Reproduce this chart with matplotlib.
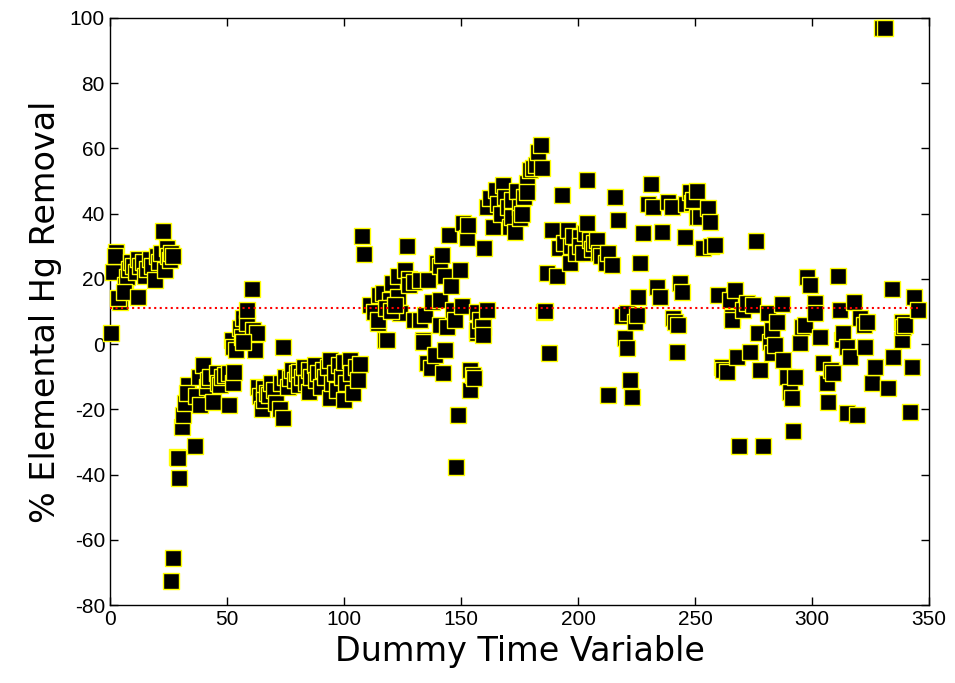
import matplotlib
matplotlib.use("Agg")
import matplotlib.pyplot as plt

plt.rcParams['axes.unicode_minus'] = False

# Hg removal vs dummy time
x = [0.5, 1.3, 2.6, 2, 4.5, 3.5, 6.4, 7.2, 6, 8, 9, 10, 11, 12, 12, 13, 14, 15, 16, 17, 18, 19.2, 20, 21,
     22.6, 22, 23.5, 24.4, 25, 25.6, 26, 27,
     26, 27, 28.6, 29.6, 29, 30.7, 31.2, 32, 33.4, 33, 36.3, 37, 38.5, 38, 40, 41.5, 42, 44, 43, 45.7, 46,
     47, 48, 49, 51, 51, 52.6, 53,
     52, 52.6, 54, 55.6, 56.4, 56.8, 58.5, 58.5, 60.7, 61, 62, 62.8, 57,
     63.5, 64, 65, 66, 66, 67, 68, 69, 70, 71, 72.6, 74, 74, 73, 75, 76, 77, 78, 79, 80, 81, 81, 82, 83, 84,
     85, 85, 86, 87.6, 88, 89, 90, 91, 92, 93, 94, 94, 95, 96, 97, 98, 99, 100, 100, 101, 102.6, 103, 104,
     105, 106, 107,
     107.7, 108.5, 111, 113, 114.5, 114.5, 115, 116.7, 117.5, 118.4, 119.7, 120.5, 121, 123, 123, 124, 126,
     126.9, 128, 128, 130, 130, 132.5, 132.5, 133.8, 133.8, 134.6, 135.5, 136, 137, 137.6, 139, 139.7, 141,
     141, 141, 142, 142.3, 143, 143, 144, 145, 145.7, 146.6, 147.4, 147.8, 148.7, 149.6, 150.4, 151, 152.6,
     153, 153.8, 153.8, 155, 155.5, 156.8, 156.8, 157, 158, 159.4, 159.4, 118, 120, 122,
     160, 161, 161, 162.4, 163.7, 165, 166, 167, 168, 169, 170, 171, 172, 172, 173, 174, 175, 175, 176, 177,
     178, 178, 179.5, 180.8, 182, 183, 184, 184.6, 185.5, 186,
     186.8, 187.6, 188.9, 191, 192, 193, 194, 195.7, 196.6, 197, 198, 199, 200.9, 201, 202, 203, 204, 204,
     205, 206, 207, 208, 209, 210, 212, 213, 212.8, 214.5, 215.8, 217, 218.8, 220, 221, 221, 222, 223,
     224.4, 225, 225.6, 226.5, 227.8, 230, 231, 232, 233.8, 235, 236, 238.5, 240, 240.6, 241.5, 242.3,
     242.7, 243.6, 244.4, 245.7, 246,
     248, 248.7, 249, 250.8, 250.8, 252, 253.4, 255.6, 256.4, 257, 258.5, 259.8,
     261.5, 262, 263.7, 265, 265.8, 265.8, 267, 268, 268.8, 270.5, 272, 273.5, 274.8, 276, 277, 277.8, 279,
     281, 282, 283, 283, 284, 285, 287, 287.6, 289.3, 290.6, 291.5, 291.9, 292.7, 295, 295.7, 297, 297.8,
     299, 301, 301, 303.4, 304.7, 306.4, 306.8, 308, 309, 311, 312, 312.8, 313, 315, 315, 316.2, 318, 319,
     320.5, 322, 322.6, 323.5, 325.6, 327, 330, 331, 332.5, 334, 334.6, 338.5, 338.5, 339, 339.7, 341.9,
     342.7, 343.6, 345]
y = [3.4, 22, 28.2, 27, 12.9, 14, 18, 20.6, 16, 23, 25, 24, 22, 14.4, 26, 24, 25, 21, 23, 26, 24, 19.6, 27,
     25, 34.7, 28, 22.7, 29.4, 27, 25.8, 28, 27,
     -72.7, -65.6, -34.7, -41.1, -35, -25.4, -21.8, -18, -12.6, -15, -31.3, -16, -18.7, -10, -6.4, -13, -11,
     -17.8, -10, -9, -12, -12.6, -10, -9.5, -18.7, -9, -12, -8.5,
     1.2, -0.9, -1.8, 4.9, 2.1, 8, 6.4, 10.4, 16.9, 4.3, -1.8, 3.4, 0.5,
     -13, -16, -20, -13.5, -17, -15, -15.6, -12, -14, -18, -20, -22.7, -0.9, -12, -10, -13, -10.4, -8, -11,
     -9, -8.6, -12.6, -10, -7, -12, -8, -14.7, -10, -6.4, -11, -9, -13, -8, -10, -7, -5, -16.6, -12, -9,
     -14, -6.4, -10, -5.5, -17, -12, -5, -9, -15, -7, -11, -6,
     33, 27.6, 12, 9.8, 6.4, 7.4, 15, 15.6, 1.2, 1.2, 13.5, 18.7, 11, 21, 14.4, 9.5, 22.7, 30, 20, 18, 7.4,
     19, 19.6, 7.4, 1.2, 0.6, 8.9, -5.8, 19.6, -7.4, 12.9, -3.4, 24.8, 13.5, 24, 5.8, 27.3, -9, 21, -1.8,
     5.2, 33.4, 17.8, 10.4, 7.4, -37.7, -21.8, 22.7, 11.7, 37, 32.5, 36.5, -8, -14, -9.5, -10.4, 9.8, 3.4,
     4.3, 7.4, 5.2, 2.8, 11, 10, 12,
     29.4, 10.4, 42, 44.8, 35.9, 47.2, 43, 40, 48.8, 45, 42, 36, 44.2, 39, 34.4, 47, 42, 38.6, 40, 45, 49.4,
     46.6, 53.4, 54, 55, 59, 61, 54, 9.8, 10,
     21.8, -2.8, 35, 21, 29.4, 45.7, 31, 35, 24.8, 30, 33, 28, 32.8, 30, 27.9, 34, 50.3, 37, 32, 29, 31,
     31.9, 28, 27, 24.8, 28, -15.6, 24.2, 45, 38, 8.6, 1.8, -1.2, 9.5, -11, -16.2, 6.8, 8.9, 14.4, 24.8, 34,
     43, 49, 42, 17.5, 14.4, 34.4, 43.6, 42, 8, 6.8, -2.5, 5.8, 18.7, 16, 32.8, 43,
     46.6, 43.3, 44, 47, 39, 39, 29.4, 41.7, 37.4, 30, 30.4, 15,
     -7, -8, -8.6, 13.5, 8.3, 7.4, 16.6, -4, -31.3, 10.4, 12.6, -2.5, 12, 31.6, 3.4, -8, -31.3, 9.5, 0.6,
     -2.8, 4.3, -0.3, 6.8, 12.3, -4.9, -10, -14.7, -16.6, -26.7, -10, 0.3, 5.2, 5.8, 20.6, 18, 12.6, 9.5,
     2.1, -5.8, -12, -17.8, -8, -9, 21, 10.4, 1.2, 3.4, -0.9, -21, -4, 12.9, -21.8, 8, 5.8, -0.9, 6.8, -12,
     -7, 97, 97, -13.5, 17, -4, 1.2, 6.8, 5.2, 5.8, -20.9, -7, 14.4, 10.4]
mean_removal = 11

fig = plt.figure(figsize=(9.55, 6.83), dpi=100)
ax = fig.add_axes([0.115, 0.114, 0.858, 0.86])

ax.scatter(x, y, marker='s', s=125, c='black', edgecolors='yellow', linewidths=1.0,
           zorder=3, clip_on=False)
ax.plot([0, 345], [mean_removal, mean_removal], color='red', linestyle=':', linewidth=1.5, zorder=4)

ax.set_xlim(0, 350)
ax.set_ylim(-80, 100)
ax.set_xticks(range(0, 351, 50))
ax.set_yticks(range(-80, 101, 20))
ax.tick_params(direction='in', top=True, right=True, length=6, width=1, labelsize=15)
for lbl in ax.get_xticklabels() + ax.get_yticklabels():
    lbl.set_family('Liberation Sans')
for sp in ax.spines.values():
    sp.set_linewidth(1.0)

ax.set_xlabel('Dummy Time Variable', fontsize=24, family='DejaVu Sans', labelpad=4)
ax.set_ylabel('% Elemental Hg Removal', fontsize=24, family='DejaVu Sans', labelpad=6)

plt.savefig('out.png', dpi=100)
